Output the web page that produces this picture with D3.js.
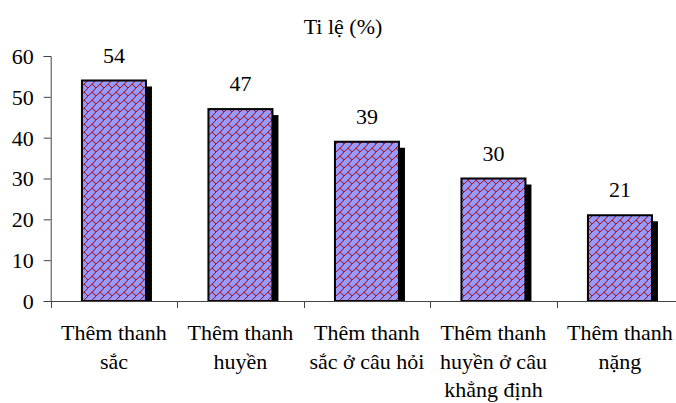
<!DOCTYPE html>
<html>
<head>
<meta charset="utf-8">
<script src="https://cdn.jsdelivr.net/npm/d3@7"></script>
<style>
  html, body { margin: 0; padding: 0; background: #fff; }
</style>
</head>
<body>
<svg id="chart" width="676" height="403"></svg>
<script>
// Tỉ lệ thêm thanh điệu theo từng trường hợp
const categories = [
  ["Thêm thanh", "sắc"],
  ["Thêm thanh", "huyền"],
  ["Thêm thanh", "sắc ở câu hỏi"],
  ["Thêm thanh", "huyền ở câu", "khẳng định"],
  ["Thêm thanh", "nặng"]
];
const values = [54, 47, 39, 30, 21];
const yTicks = [0, 10, 20, 30, 40, 50, 60];
const title = "Ti lệ (%)";

const FONT = '"Liberation Serif"';
const FS = 22;

const svg = d3.select("#chart");
const plotLeft = 50.7, plotBottom = 301, plotTop = 56;
const step = 126.5;

const x = d3.scaleBand()
  .domain(d3.range(categories.length))
  .range([plotLeft, plotLeft + step * categories.length])
  .paddingInner(0.494)
  .paddingOuter(0.247);

const y = d3.scaleLinear().domain([0, 60]).range([plotBottom, plotTop]);

// Diagonal brick fill pattern (8x8 cell)
const defs = svg.append("defs");
const pat = defs.append("pattern")
  .attr("id", "brick")
  .attr("patternUnits", "userSpaceOnUse")
  .attr("width", 8).attr("height", 8);
pat.append("rect").attr("width", 8).attr("height", 8).attr("fill", "#9999ff");
const rows = [0x01, 0x02, 0x04, 0x08, 0x18, 0x24, 0x42, 0x81];
rows.forEach((bits, r) => {
  for (let c = 0; c < 8; c++) {
    if (bits & (0x80 >> c)) {
      pat.append("rect").attr("x", c).attr("y", r)
        .attr("width", 1.1).attr("height", 1.1)
        .attr("fill", "#9a1c2a");
    }
  }
});

// Bar shadows
const sh = 6;
svg.append("g").selectAll("rect")
  .data(values)
  .join("rect")
  .attr("x", (d, i) => x(i) + sh)
  .attr("y", d => y(d) + sh)
  .attr("width", x.bandwidth())
  .attr("height", d => Math.max(0, plotBottom - y(d) - sh))
  .attr("fill", "#000");

// Bars
svg.append("g").selectAll("rect")
  .data(values)
  .join("rect")
  .attr("x", (d, i) => x(i))
  .attr("y", d => y(d))
  .attr("width", x.bandwidth())
  .attr("height", d => plotBottom - y(d))
  .attr("fill", "url(#brick)")
  .attr("stroke", "#000")
  .attr("stroke-width", 2);

function serif(sel) {
  sel.attr("font-size", FS).style("font-family", FONT);
}

// Value labels
svg.append("g").selectAll("text")
  .data(values)
  .join("text")
  .attr("x", (d, i) => x(i) + x.bandwidth() / 2)
  .attr("y", d => y(d) - 18)
  .attr("text-anchor", "middle")
  .call(serif)
  .text(d => d);

// Y axis
const yAxis = svg.append("g")
  .attr("transform", `translate(${plotLeft},0)`)
  .call(d3.axisLeft(y).tickValues(yTicks).tickSize(7).tickPadding(10));
yAxis.attr("font-family", null).attr("font-size", null);
yAxis.selectAll("text")
  .attr("dy", "0.34em")
  .attr("fill", "#000")
  .call(serif);
yAxis.selectAll("line, path").attr("stroke", "#444");

// X axis
const xAxis = svg.append("g")
  .attr("transform", `translate(0,${plotBottom})`);
xAxis.append("line")
  .attr("x1", plotLeft).attr("x2", 676)
  .attr("y1", 0.5).attr("y2", 0.5)
  .attr("stroke", "#444");
const bounds = d3.range(categories.length + 1).map(i => plotLeft + i * step);
xAxis.selectAll("line.tick")
  .data(bounds)
  .join("line")
  .attr("class", "tick")
  .attr("x1", d => Math.round(d) + 0.5).attr("x2", d => Math.round(d) + 0.5)
  .attr("y1", 0).attr("y2", 7)
  .attr("stroke", "#444");

// Category labels
const labels = svg.append("g").selectAll("text")
  .data(categories)
  .join("text")
  .attr("x", (d, i) => x(i) + x.bandwidth() / 2)
  .attr("y", 340)
  .attr("text-anchor", "middle")
  .call(serif);
labels.selectAll("tspan")
  .data(d => d)
  .join("tspan")
  .attr("x", function () { return this.parentNode.getAttribute("x"); })
  .attr("dy", (d, i) => i === 0 ? 0 : 28.5)
  .text(d => d);

// Title
svg.append("text")
  .attr("x", 343)
  .attr("y", 34)
  .attr("text-anchor", "middle")
  .call(serif)
  .text(title);
</script>
</body>
</html>
